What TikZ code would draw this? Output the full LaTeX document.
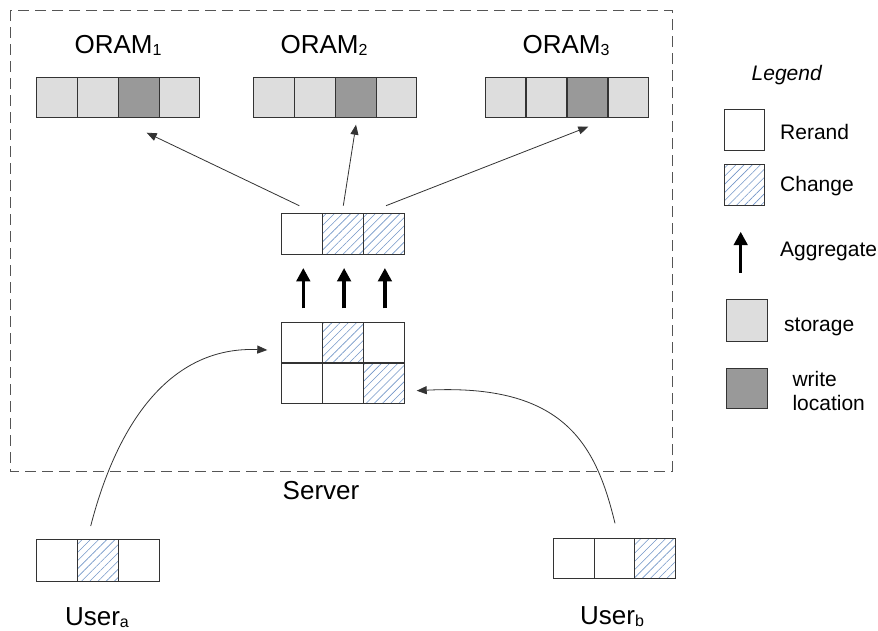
\documentclass[tikz,border=0pt]{standalone}
\usepackage{fontspec}
\setmainfont{Liberation Sans}
\usetikzlibrary{arrows.meta,patterns.meta}

\definecolor{framegray}{HTML}{555555}
\definecolor{edgegray}{HTML}{333333}
\definecolor{storefill}{HTML}{DDDDDD}
\definecolor{writefill}{HTML}{999999}
\definecolor{hatchblue}{HTML}{7396C8}

% lowered small index, as in ORAM_1 or User_a
\newcommand\smallsub[1]{\raisebox{-0.1em}{\fontsize{16}{18}\selectfont #1}}

\tikzset{
  cell/.style={draw=edgegray, line width=0.9pt, minimum width=40.8pt,
    minimum height=40.5pt, inner sep=0pt, outer sep=0pt},
  rerand/.style={cell, fill=white},
  change/.style={cell, pattern={Lines[angle=45,distance=5.8pt,line width=0.6pt]},
    pattern color=hatchblue},
  storage/.style={cell, fill=storefill},
  writeloc/.style={cell, fill=writefill},
  biglabel/.style={font=\fontsize{26}{30}\selectfont, anchor=base, inner sep=0pt},
  legendtext/.style={font=\fontsize{21}{25}\selectfont, anchor=base west, inner sep=0pt},
  link/.style={draw=edgegray, line width=0.8pt, -{Triangle[width=8pt,length=10pt]}},
  aggarrow/.style={line width=3.4pt, -{Triangle[width=13.5pt,length=13.5pt]}},
}

\begin{document}
\begin{tikzpicture}[x=1pt,y=-1pt]
  \fill[white] (0,0) rectangle (878,630);
  \useasboundingbox (0,0) rectangle (878,630);

  % server boundary
  \draw[framegray, line width=0.9pt, dash pattern=on 11pt off 6pt]
    (10,10) rectangle (672,471);
  \node[biglabel] (server) at (321,499.5) {Server};

  % the three ORAM stores
  \foreach \i/\x/\s in {1/57.1/storage,2/97.9/storage,3/138.7/writeloc,4/179.5/storage}
    \node[\s, minimum height=40pt] (oa\i) at (\x,97.7) {};
  \foreach \i/\x/\s in {1/274.3/storage,2/315/storage,3/355.7/writeloc,4/396.4/storage}
    \node[\s, minimum height=40pt] (ob\i) at (\x,97.7) {};
  \foreach \i/\x/\s in {1/505.5/storage,2/546.5/storage,3/587.5/writeloc,4/628.5/storage}
    \node[\s, minimum height=40pt] (oc\i) at (\x,97.7) {};
  \node[biglabel] (lab1) at (118,53.3) {ORAM\smallsub{1}};
  \node[biglabel] (lab2) at (324,53.3) {ORAM\smallsub{2}};
  \node[biglabel] (lab3) at (566,53.3) {ORAM\smallsub{3}};

  % aggregated row
  \node[rerand] (ag1) at (302.1,233.7) {};
  \node[change] (ag2) at (342.9,233.7) {};
  \node[change] (ag3) at (383.7,233.7) {};

  % collected updates
  \node[rerand] (g11) at (302.1,342.5) {};
  \node[change] (g12) at (342.9,342.5) {};
  \node[rerand] (g13) at (383.7,342.5) {};
  \node[rerand] (g21) at (302.1,383.3) {};
  \node[rerand] (g22) at (342.9,383.3) {};
  \node[change] (g23) at (383.7,383.3) {};

  % aggregation arrows
  \foreach \c in {1,2,3}
    \draw[aggarrow, shorten <=14pt, shorten >=14pt] ([xshift=1.2pt]g1\c.north) -- ([xshift=1.2pt]ag\c.south);

  % writes to the ORAMs
  \coordinate (s1) at (299.3,205.7);
  \coordinate (s2) at (343.3,205.7);
  \coordinate (s3) at (386,205.7);
  \coordinate (t1) at (146.7,132.7);
  \coordinate (t2) at (356,124.7);
  \coordinate (t3) at (588.3,126.7);
  \draw[link] (s1) -- (t1);
  \draw[link] (s2) -- (t2);
  \draw[link] (s3) -- (t3);

  % users
  \node[rerand, minimum height=41.7pt] (ua1) at (57.1,560.2) {};
  \node[change, minimum height=41.7pt] (ua2) at (98,560.2) {};
  \node[rerand, minimum height=41.7pt] (ua3) at (138.9,560.2) {};
  \node[biglabel] (usera) at (97,625) {User\smallsub{a}};

  \node[rerand, minimum height=40pt] (ub1) at (573.7,558.3) {};
  \node[rerand, minimum height=40pt] (ub2) at (614.5,558.3) {};
  \node[change, minimum height=40pt] (ub3) at (655.3,558.3) {};
  \node[biglabel] (userb) at (612,624) {User\smallsub{b}};

  % uploads to the server
  \coordinate (ua) at (90.7,526);
  \coordinate (ta) at (267.3,350);
  \coordinate (ub) at (615,523.3);
  \coordinate (tb) at (416.7,390.7);
  \draw[link] (ua) .. controls (118,420) and (172,346) .. (ta);
  \draw[link] (ub) .. controls (596,445) and (565,383) .. (tb);

  % legend
  \node[font=\fontsize{21}{25}\selectfont\itshape, anchor=base, inner sep=0pt] (leg) at (786.7,80.7) {Legend};
  \node[rerand] (kr) at (744.4,129.7) {};
  \node[legendtext] (kr-t) at (780,139.2) {Rerand};
  \node[change] (kc) at (744.4,184.7) {};
  \node[legendtext] (kc-t) at (780,191.5) {Change};
  \coordinate (ka0) at (740.7,272.7);
  \coordinate (ka1) at (740.7,231.7);
  \draw[aggarrow] (ka0) -- (ka1);
  \node[legendtext] (ka-t) at (780,256.7) {Aggregate};
  \node[storage, minimum height=41.7pt] (ks) at (746.9,320.2) {};
  \node[legendtext] (ks-t) at (784,331.7) {storage};
  \node[writeloc, minimum height=40pt] (kw) at (746.9,388.3) {};
  \node[legendtext, align=left, anchor=north west] (kw-t) at (792.3,371.5) {write\\[-1.5pt]location};
\end{tikzpicture}
\end{document}
